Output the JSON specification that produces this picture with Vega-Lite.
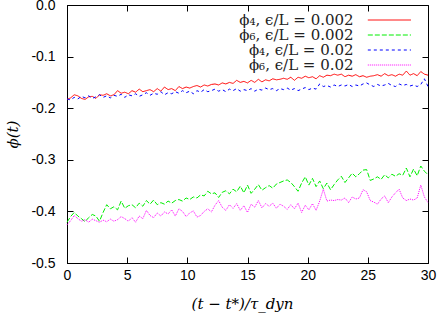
{
  "$schema": "https://vega.github.io/schema/vega-lite/v6.json",
  "width": 361,
  "height": 258,
  "autosize": "none",
  "padding": {"left": 67, "top": 5, "right": 9, "bottom": 52},
  "background": "white",
  "config": {
    "view": {"stroke": "black", "strokeWidth": 1},
    "axis": {
      "grid": false,
      "domainColor": "black",
      "tickColor": "black",
      "tickSize": -6,
      "labelFont": "Liberation Sans",
      "labelFontSize": 14,
      "labelColor": "black",
      "titleColor": "black",
      "titleFont": "DejaVu Serif",
      "titleFontWeight": "normal",
      "titleFontStyle": "italic"
    }
  },
  "data": {
    "values": [
      {"t":0,"a":-0.183,"b":-0.421,"c":-0.182,"d":-0.426},
      {"t":0.3,"a":-0.180,"b":-0.410,"c":-0.184,"d":-0.418},
      {"t":0.6,"a":-0.174,"b":-0.402,"c":-0.179,"d":-0.408},
      {"t":0.9,"a":-0.176,"b":-0.409,"c":-0.182,"d":-0.414},
      {"t":1.2,"a":-0.181,"b":-0.414,"c":-0.177,"d":-0.419},
      {"t":1.5,"a":-0.183,"b":-0.420,"c":-0.180,"d":-0.416},
      {"t":1.8,"a":-0.178,"b":-0.412,"c":-0.176,"d":-0.421},
      {"t":2.1,"a":-0.177,"b":-0.406,"c":-0.181,"d":-0.415},
      {"t":2.4,"a":-0.181,"b":-0.409,"c":-0.178,"d":-0.418},
      {"t":2.7,"a":-0.174,"b":-0.419,"c":-0.174,"d":-0.421},
      {"t":3.0,"a":-0.175,"b":-0.402,"c":-0.179,"d":-0.417},
      {"t":3.3,"a":-0.172,"b":-0.387,"c":-0.176,"d":-0.420},
      {"t":3.6,"a":-0.176,"b":-0.395,"c":-0.180,"d":-0.415},
      {"t":3.9,"a":-0.174,"b":-0.391,"c":-0.175,"d":-0.419},
      {"t":4.2,"a":-0.166,"b":-0.397,"c":-0.177,"d":-0.416},
      {"t":4.5,"a":-0.171,"b":-0.380,"c":-0.173,"d":-0.410},
      {"t":4.8,"a":-0.169,"b":-0.394,"c":-0.179,"d":-0.414},
      {"t":5.1,"a":-0.172,"b":-0.389,"c":-0.174,"d":-0.419},
      {"t":5.4,"a":-0.166,"b":-0.387,"c":-0.176,"d":-0.412},
      {"t":5.7,"a":-0.169,"b":-0.393,"c":-0.172,"d":-0.421},
      {"t":6.0,"a":-0.163,"b":-0.384,"c":-0.177,"d":-0.409},
      {"t":6.3,"a":-0.168,"b":-0.390,"c":-0.174,"d":-0.414},
      {"t":6.6,"a":-0.166,"b":-0.379,"c":-0.170,"d":-0.398},
      {"t":6.9,"a":-0.164,"b":-0.386,"c":-0.175,"d":-0.408},
      {"t":7.2,"a":-0.168,"b":-0.378,"c":-0.171,"d":-0.412},
      {"t":7.5,"a":-0.162,"b":-0.387,"c":-0.173,"d":-0.403},
      {"t":7.8,"a":-0.167,"b":-0.383,"c":-0.168,"d":-0.409},
      {"t":8.1,"a":-0.159,"b":-0.386,"c":-0.174,"d":-0.401},
      {"t":8.4,"a":-0.164,"b":-0.380,"c":-0.170,"d":-0.405},
      {"t":8.7,"a":-0.162,"b":-0.384,"c":-0.172,"d":-0.397},
      {"t":9.0,"a":-0.166,"b":-0.379,"c":-0.168,"d":-0.409},
      {"t":9.3,"a":-0.158,"b":-0.377,"c":-0.171,"d":-0.395},
      {"t":9.6,"a":-0.162,"b":-0.380,"c":-0.166,"d":-0.400},
      {"t":9.9,"a":-0.159,"b":-0.374,"c":-0.170,"d":-0.410},
      {"t":10.2,"a":-0.161,"b":-0.377,"c":-0.167,"d":-0.403},
      {"t":10.5,"a":-0.158,"b":-0.372,"c":-0.172,"d":-0.399},
      {"t":10.8,"a":-0.156,"b":-0.374,"c":-0.166,"d":-0.411},
      {"t":11.1,"a":-0.159,"b":-0.368,"c":-0.169,"d":-0.408},
      {"t":11.4,"a":-0.155,"b":-0.370,"c":-0.164,"d":-0.400},
      {"t":11.7,"a":-0.157,"b":-0.361,"c":-0.168,"d":-0.395},
      {"t":12.0,"a":-0.154,"b":-0.366,"c":-0.166,"d":-0.401},
      {"t":12.3,"a":-0.153,"b":-0.364,"c":-0.163,"d":-0.388},
      {"t":12.6,"a":-0.155,"b":-0.373,"c":-0.167,"d":-0.379},
      {"t":12.9,"a":-0.151,"b":-0.363,"c":-0.164,"d":-0.392},
      {"t":13.2,"a":-0.153,"b":-0.360,"c":-0.168,"d":-0.398},
      {"t":13.5,"a":-0.150,"b":-0.366,"c":-0.163,"d":-0.387},
      {"t":13.8,"a":-0.152,"b":-0.357,"c":-0.166,"d":-0.394},
      {"t":14.1,"a":-0.146,"b":-0.362,"c":-0.162,"d":-0.385},
      {"t":14.4,"a":-0.150,"b":-0.351,"c":-0.167,"d":-0.398},
      {"t":14.7,"a":-0.148,"b":-0.364,"c":-0.164,"d":-0.389},
      {"t":15.0,"a":-0.151,"b":-0.349,"c":-0.166,"d":-0.402},
      {"t":15.3,"a":-0.146,"b":-0.365,"c":-0.162,"d":-0.386},
      {"t":15.6,"a":-0.150,"b":-0.357,"c":-0.167,"d":-0.392},
      {"t":15.9,"a":-0.144,"b":-0.348,"c":-0.163,"d":-0.379},
      {"t":16.2,"a":-0.149,"b":-0.359,"c":-0.165,"d":-0.393},
      {"t":16.5,"a":-0.145,"b":-0.354,"c":-0.161,"d":-0.385},
      {"t":16.8,"a":-0.147,"b":-0.350,"c":-0.164,"d":-0.390},
      {"t":17.1,"a":-0.143,"b":-0.355,"c":-0.162,"d":-0.384},
      {"t":17.4,"a":-0.145,"b":-0.347,"c":-0.166,"d":-0.394},
      {"t":17.7,"a":-0.144,"b":-0.344,"c":-0.162,"d":-0.386},
      {"t":18.0,"a":-0.142,"b":-0.341,"c":-0.164,"d":-0.390},
      {"t":18.3,"a":-0.144,"b":-0.339,"c":-0.161,"d":-0.396},
      {"t":18.6,"a":-0.140,"b":-0.344,"c":-0.165,"d":-0.387},
      {"t":18.9,"a":-0.146,"b":-0.352,"c":-0.162,"d":-0.395},
      {"t":19.2,"a":-0.140,"b":-0.361,"c":-0.166,"d":-0.384},
      {"t":19.5,"a":-0.142,"b":-0.345,"c":-0.163,"d":-0.402},
      {"t":19.8,"a":-0.138,"b":-0.333,"c":-0.160,"d":-0.388},
      {"t":20.1,"a":-0.141,"b":-0.349,"c":-0.164,"d":-0.397},
      {"t":20.4,"a":-0.139,"b":-0.336,"c":-0.161,"d":-0.385},
      {"t":20.7,"a":-0.143,"b":-0.352,"c":-0.163,"d":-0.398},
      {"t":21.0,"a":-0.137,"b":-0.341,"c":-0.153,"d":-0.380},
      {"t":21.3,"a":-0.140,"b":-0.356,"c":-0.158,"d":-0.357},
      {"t":21.6,"a":-0.136,"b":-0.345,"c":-0.156,"d":-0.380},
      {"t":21.9,"a":-0.137,"b":-0.358,"c":-0.159,"d":-0.378},
      {"t":22.2,"a":-0.134,"b":-0.348,"c":-0.155,"d":-0.379},
      {"t":22.5,"a":-0.136,"b":-0.339,"c":-0.158,"d":-0.377},
      {"t":22.8,"a":-0.134,"b":-0.332,"c":-0.155,"d":-0.378},
      {"t":23.1,"a":-0.139,"b":-0.344,"c":-0.157,"d":-0.374},
      {"t":23.4,"a":-0.136,"b":-0.335,"c":-0.154,"d":-0.383},
      {"t":23.7,"a":-0.138,"b":-0.326,"c":-0.158,"d":-0.372},
      {"t":24.0,"a":-0.135,"b":-0.333,"c":-0.155,"d":-0.376},
      {"t":24.3,"a":-0.139,"b":-0.327,"c":-0.157,"d":-0.374},
      {"t":24.6,"a":-0.137,"b":-0.320,"c":-0.153,"d":-0.358},
      {"t":24.9,"a":-0.140,"b":-0.319,"c":-0.151,"d":-0.362},
      {"t":25.2,"a":-0.138,"b":-0.340,"c":-0.155,"d":-0.379},
      {"t":25.5,"a":-0.137,"b":-0.337,"c":-0.158,"d":-0.382},
      {"t":25.8,"a":-0.135,"b":-0.333,"c":-0.154,"d":-0.386},
      {"t":26.1,"a":-0.138,"b":-0.338,"c":-0.157,"d":-0.376},
      {"t":26.4,"a":-0.133,"b":-0.329,"c":-0.155,"d":-0.370},
      {"t":26.7,"a":-0.137,"b":-0.335,"c":-0.152,"d":-0.383},
      {"t":27.0,"a":-0.135,"b":-0.328,"c":-0.156,"d":-0.372},
      {"t":27.3,"a":-0.138,"b":-0.332,"c":-0.158,"d":-0.364},
      {"t":27.6,"a":-0.134,"b":-0.327,"c":-0.153,"d":-0.357},
      {"t":27.9,"a":-0.136,"b":-0.330,"c":-0.156,"d":-0.374},
      {"t":28.2,"a":-0.128,"b":-0.316,"c":-0.154,"d":-0.379},
      {"t":28.5,"a":-0.136,"b":-0.333,"c":-0.157,"d":-0.376},
      {"t":28.8,"a":-0.133,"b":-0.318,"c":-0.155,"d":-0.378},
      {"t":29.1,"a":-0.137,"b":-0.331,"c":-0.158,"d":-0.374},
      {"t":29.4,"a":-0.129,"b":-0.312,"c":-0.154,"d":-0.349},
      {"t":29.7,"a":-0.134,"b":-0.322,"c":-0.143,"d":-0.372},
      {"t":30.0,"a":-0.136,"b":-0.329,"c":-0.158,"d":-0.383}
    ]
  },
  "transform": [{"fold": ["a", "b", "c", "d"], "as": ["s", "phi"]}],
  "resolve": {"axis": {"x": "independent", "y": "independent"}},
  "layer": [
    {
      "mark": {"type": "line", "strokeWidth": 1},
      "encoding": {
        "x": {
          "field": "t", "type": "quantitative",
          "scale": {"domain": [0, 30], "nice": false, "zero": false},
          "axis": {
            "orient": "bottom",
            "values": [0, 5, 10, 15, 20, 25, 30],
            "labelPadding": 11,
            "labelFlush": false,
            "title": "(t − t*)/τ_dyn",
            "titleFontSize": 15,
            "titleFontStyle": "italic",
            "titleAlign": "center",
            "titleBaseline": "middle",
            "titleX": 175,
            "titleY": 40
          }
        },
        "y": {
          "field": "phi", "type": "quantitative",
          "scale": {"domain": [-0.5, 0], "nice": false, "zero": false},
          "axis": {
            "orient": "left",
            "values": [-0.5, -0.4, -0.3, -0.2, -0.1, 0],
            "labelExpr": "replace(format(datum.value, '.1f'), '−', '-')",
            "labelPadding": 18,
            "labelFlush": false,
            "title": "ϕ(t)",
            "titleFontSize": 15,
            "titleAngle": -90,
            "titleAlign": "center",
            "titleBaseline": "middle",
            "titleX": -55,
            "titleY": 129
          }
        },
        "color": {
          "field": "s", "type": "nominal",
          "scale": {"domain": ["a", "b", "c", "d"], "range": ["#ff0000", "#00ee00", "#0000ff", "#ff00ff"]},
          "legend": {
            "orient": "none",
            "legendX": 314.4,
            "legendY": 7,
            "title": null,
            "padding": 0,
            "gridAlign": "none",
            "symbolType": "M-3,0H3",
            "symbolSize": 207,
            "symbolStrokeWidth": 1,
            "symbolFillColor": "transparent",
            "labelFont": "DejaVu Serif",
            "labelFontSize": 15,
            "labelColor": "#222222",
            "labelAlign": "right",
            "labelOffset": -43.8,
            "labelLimit": 400,
            "rowPadding": -1,
            "labelExpr": "datum.label == 'a' ? 'ϕ₄, ϵ/L = 0.002' : datum.label == 'b' ? 'ϕ₆, ϵ/L = 0.002' : datum.label == 'c' ? 'ϕ₄, ϵ/L = 0.02' : 'ϕ₆, ϵ/L = 0.02'"
          }
        },
        "strokeDash": {
          "field": "s", "type": "nominal",
          "scale": {"domain": ["a", "b", "c", "d"], "range": [[1, 0], [5, 2], [3, 3], [1, 1]]}
        }
      }
    },
    {
      "mark": {"type": "line", "opacity": 0},
      "encoding": {
        "detail": {"field": "s", "type": "nominal"},
        "x": {
          "field": "t", "type": "quantitative",
          "axis": {"orient": "top", "values": [0, 5, 10, 15, 20, 25, 30], "labels": false, "title": null, "domain": false}
        },
        "y": {
          "field": "phi", "type": "quantitative",
          "axis": {"orient": "right", "values": [-0.5, -0.4, -0.3, -0.2, -0.1, 0], "labels": false, "title": null, "domain": false}
        }
      }
    }
  ]
}
